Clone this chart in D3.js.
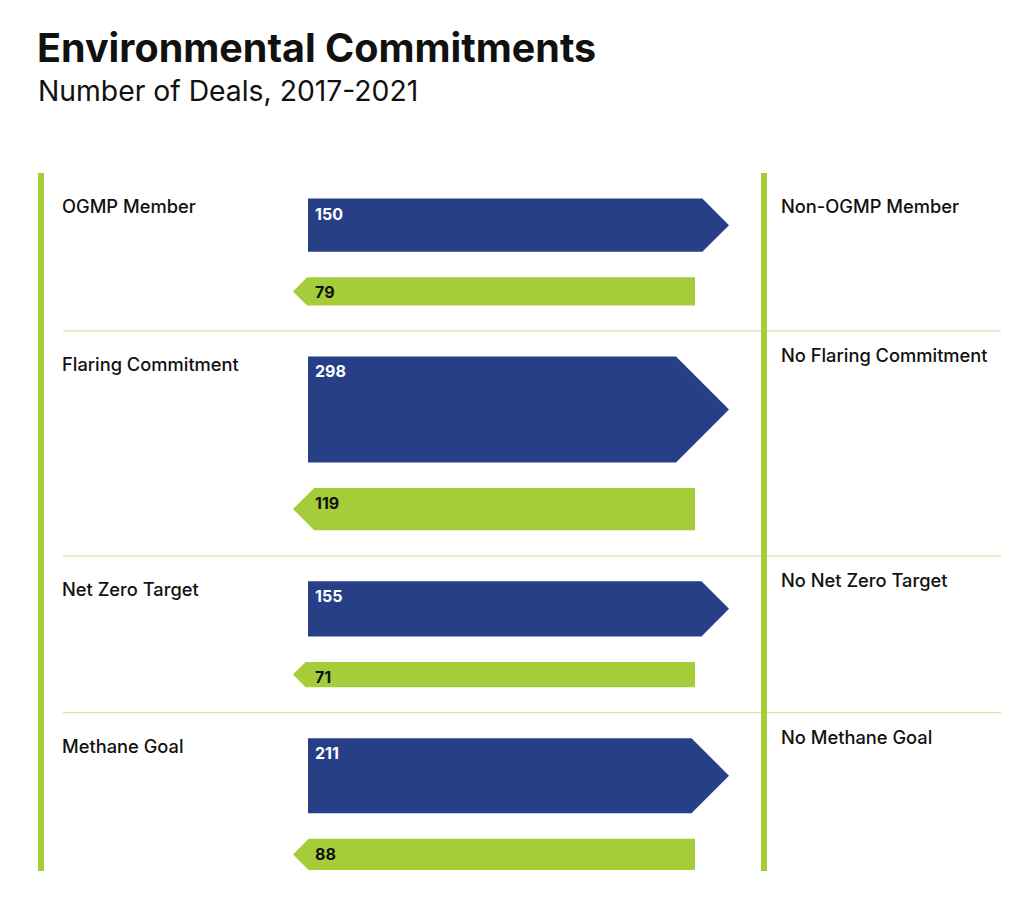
<!DOCTYPE html>
<html>
<head>
<meta charset="UTF-8">
<title>Environmental Commitments</title>
<script src="https://cdn.jsdelivr.net/npm/d3@7"></script>
<style>
  body { margin: 0; background: #fff; }
  svg text { font-family: Inter, "Noto Sans", sans-serif; fill: #111; }
</style>
</head>
<body>
<div id="chart"></div>
<script>
// data
const commitments = ["OGMP Member", "Flaring Commitment", "Net Zero Target", "Methane Goal"];
const opposites = ["Non-OGMP Member", "No Flaring Commitment", "No Net Zero Target", "No Methane Goal"];
const withDeals = [150, 298, 155, 211];
const withoutDeals = [79, 119, 71, 88];

const w = 1024;
const h = 901;
const blue = "#263f87";
const green = "#a5cd39";
const sepColor = "#d3e6a4";

const chartTop = 173;
const chartBottom = 871;
const gap = 25.5;

const svg = d3.select("#chart")
  .append("svg")
  .attr("width", w)
  .attr("height", h);

// title
svg.append("text")
  .attr("x", 37)
  .attr("y", 62)
  .style("font-size", "39.5px")
  .style("font-weight", 700)
  .text("Environmental Commitments");

svg.append("text")
  .attr("x", 38)
  .attr("y", 101)
  .style("font-size", "28.3px")
  .style("font-weight", 400)
  .text("Number of Deals, 2017-2021");

// arrow thickness follows the number of deals
const thick = d3.scaleLinear()
  .domain([0, d3.max(withDeals)])
  .range([0, 106]);

// horizontal extent of the two arrow kinds
const blueX = d3.scaleLinear().domain([0, 1]).range([308, 729]);
const greenX = d3.scaleLinear().domain([0, 1]).range([293, 695]);

// stack the groups top to bottom
let y = chartTop;
const rows = commitments.map((name, i) => {
  const groupTop = y;
  const bTop = groupTop + gap;
  const bH = thick(withDeals[i]);
  const gTop = bTop + bH + gap;
  const gH = thick(withoutDeals[i]);
  y = gTop + gH + gap;
  return { name, opp: opposites[i], yes: withDeals[i], no: withoutDeals[i], i, groupTop, bTop, bH, gTop, gH };
});

// separators between groups
svg.selectAll("line.sep")
  .data(rows.slice(1))
  .enter()
  .append("line")
  .attr("class", "sep")
  .attr("x1", 63)
  .attr("x2", 1001)
  .attr("y1", d => d.groupTop)
  .attr("y2", d => d.groupTop)
  .attr("stroke", sepColor)
  .attr("stroke-width", 1.3);

// vertical rails
svg.selectAll("line.rail")
  .data([41, 764])
  .enter()
  .append("line")
  .attr("class", "rail")
  .attr("x1", d => d)
  .attr("x2", d => d)
  .attr("y1", chartTop)
  .attr("y2", chartBottom)
  .attr("stroke", green)
  .attr("stroke-width", 6);

const rightArrow = d => {
  const x0 = blueX(0), tip = blueX(1), hh = d.bH / 2;
  const sh = tip - hh;
  return `M${x0},${d.bTop}L${sh},${d.bTop}L${tip},${d.bTop + hh}L${sh},${d.bTop + d.bH}L${x0},${d.bTop + d.bH}Z`;
};

const leftArrow = d => {
  const tip = greenX(0), x1 = greenX(1), hh = d.gH / 2;
  const sh = tip + hh;
  return `M${x1},${d.gTop}L${sh},${d.gTop}L${tip},${d.gTop + hh}L${sh},${d.gTop + d.gH}L${x1},${d.gTop + d.gH}Z`;
};

const g = svg.selectAll("g.row")
  .data(rows)
  .enter()
  .append("g")
  .attr("class", "row");

g.append("path")
  .attr("d", rightArrow)
  .attr("fill", blue);

g.append("path")
  .attr("d", leftArrow)
  .attr("fill", green);

g.append("text")
  .attr("x", 315)
  .attr("y", d => d.bTop + 21)
  .style("font-size", "16px")
  .style("font-weight", 700)
  .style("fill", "#fff")
  .text(d => d.yes);

g.append("text")
  .attr("x", 315)
  .attr("y", d => d.gTop + 21)
  .style("font-size", "16px")
  .style("font-weight", 700)
  .text(d => d.no);

g.append("text")
  .attr("x", 62)
  .attr("y", d => d.groupTop + 40)
  .style("font-size", "18.3px")
  .style("font-weight", 500)
  .text(d => d.name);

g.append("text")
  .attr("x", 781)
  .attr("y", d => d.groupTop + (d.i === 0 ? 40 : 31))
  .style("font-size", "18.3px")
  .style("font-weight", 500)
  .text(d => d.opp);
</script>
</body>
</html>
